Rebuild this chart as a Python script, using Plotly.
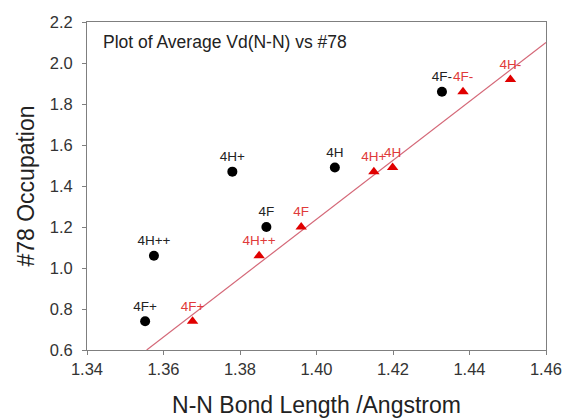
import plotly.graph_objects as go

# Data
labels_black = ["4F+", "4H++", "4H+", "4F", "4H", "4F-"]
black_x = [1.3552, 1.3575, 1.3780, 1.3869, 1.4048, 1.4328]
black_y = [0.74, 1.06, 1.47, 1.20, 1.49, 1.86]

labels_red = ["4F+", "4H++", "4F", "4H+", "4H", "4F-", "4H-"]
red_x = [1.3676, 1.3850, 1.3960, 1.4150, 1.4199, 1.4383, 1.4507]
red_y = [0.74, 1.06, 1.20, 1.47, 1.49, 1.86, 1.92]

fit_x = [1.3556, 1.46]
fit_y = [0.60, 2.10]

x_ticks = [1.34, 1.36, 1.38, 1.40, 1.42, 1.44, 1.46]
y_ticks = [0.6, 0.8, 1.0, 1.2, 1.4, 1.6, 1.8, 2.0, 2.2]

FONT = "Liberation Sans, Arial, sans-serif"

fig = go.Figure()
fig.add_trace(go.Scatter(
    x=fit_x, y=fit_y, mode="lines",
    line=dict(color="#d46878", width=1.2), hoverinfo="skip", showlegend=False))
fig.add_trace(go.Scatter(
    x=black_x, y=black_y, mode="markers+text", text=labels_black,
    textposition="top center",
    textfont=dict(family=FONT, size=13.5, color="#222222"),
    marker=dict(symbol="circle", size=10, color="#000000"), showlegend=False))
fig.add_trace(go.Scatter(
    x=red_x, y=red_y, mode="markers+text", text=labels_red,
    textposition="top center",
    textfont=dict(family=FONT, size=13.5, color="#e03a3a"),
    marker=dict(symbol="triangle-up", size=10, color="#e00000"), showlegend=False))

axis_common = dict(
    showgrid=False, zeroline=False, showline=True, linecolor="#7f7f7f", linewidth=1,
    mirror=True, ticks="outside", ticklen=4, tickcolor="#7f7f7f", automargin=False,
    tickfont=dict(family=FONT, size=16.5, color="#333333"),
)

fig.update_layout(
    width=565, height=418,
    margin=dict(l=87, r=19, t=22, b=68),
    paper_bgcolor="white", plot_bgcolor="white",
    font=dict(family=FONT),
    xaxis=dict(range=[1.34, 1.46], tickvals=x_ticks,
               ticktext=[f"{v:.2f}" for v in x_ticks],
               title=dict(text="N-N Bond Length /Angstrom",
                          font=dict(family=FONT, size=23, color="#222222"), standoff=29),
               **axis_common),
    yaxis=dict(range=[0.6, 2.2], tickvals=y_ticks,
               ticktext=[f"{v:.1f}" for v in y_ticks],
               ticklabelstandoff=6,
               title=dict(text="#78 Occupation",
                          font=dict(family=FONT, size=23, color="#222222"), standoff=8),
               **axis_common),
    annotations=[dict(
        text="Plot of Average Vd(N-N) vs #78", xref="paper", yref="paper",
        x=0.03, y=0.975, xanchor="left", yanchor="top", showarrow=False,
        font=dict(family=FONT, size=17.5, color="#222222"))],
)

# Remove the default page margin so the figure fills the window exactly.
fig.write_html(
    "out.html",
    config={"displayModeBar": False},
    post_script="document.body.style.margin='0';document.body.style.overflow='hidden';",
)
